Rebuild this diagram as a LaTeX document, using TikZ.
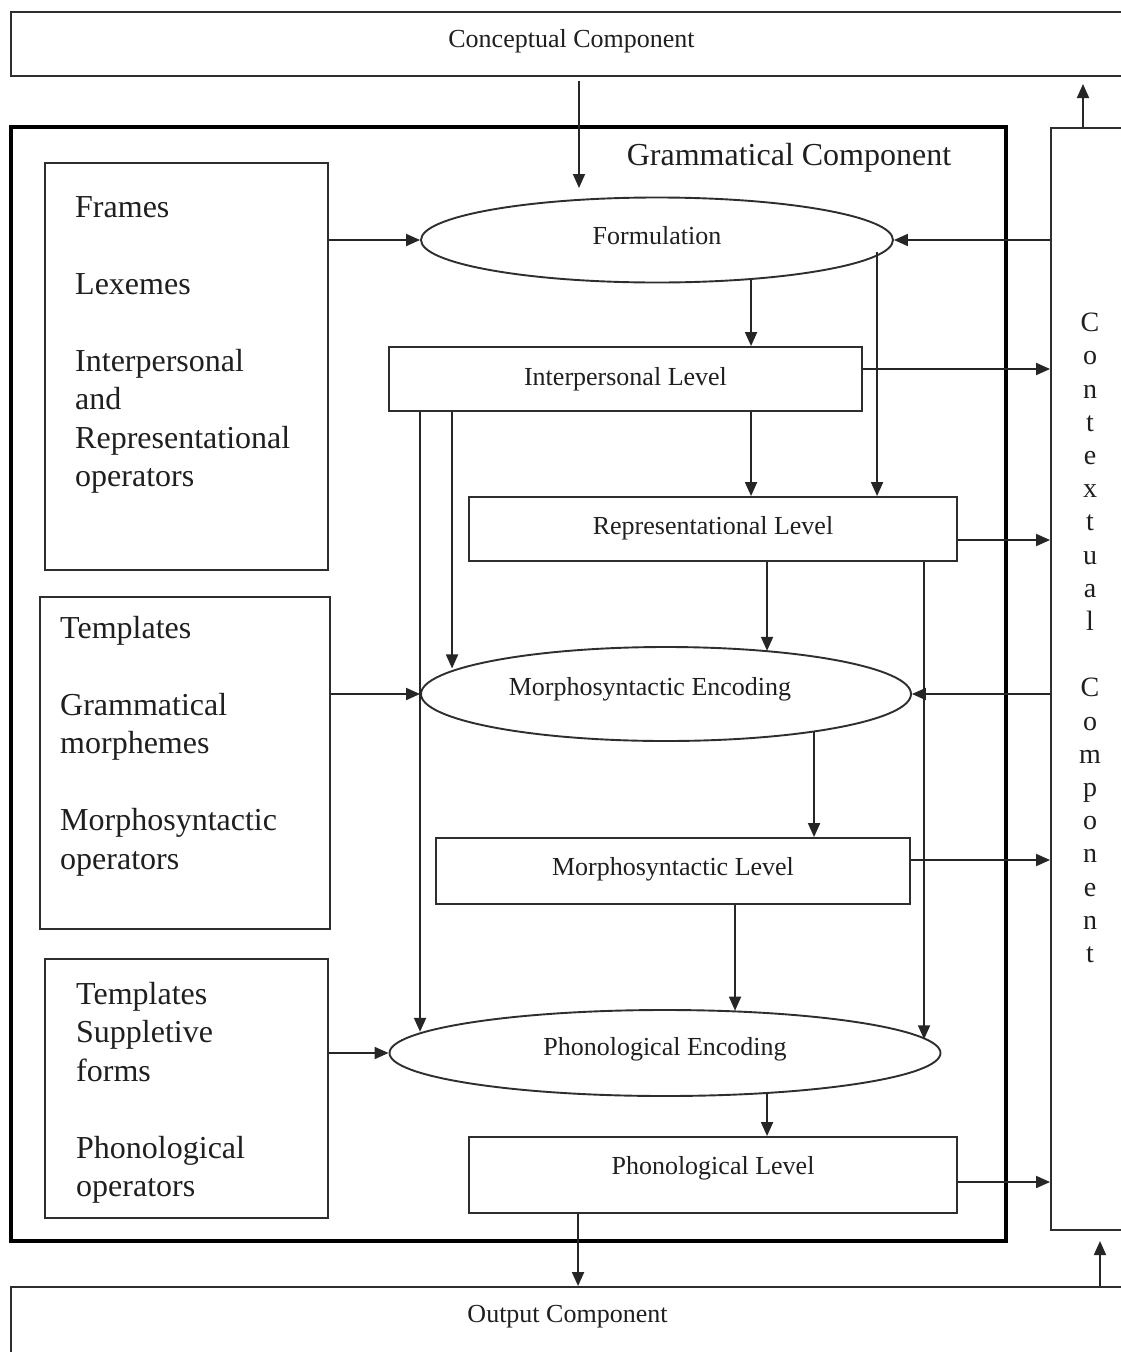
\documentclass[tikz,border=0pt]{standalone}
\usepackage{fontspec}
\setmainfont{Liberation Serif}
\usetikzlibrary{shapes.geometric,arrows.meta,calc}

\begin{document}
\begin{tikzpicture}[x=1pt,y=-1pt,
  line/.style={draw=black!82, line width=1.9pt},
  arr/.style={draw=black!85, line width=1.9pt, -{Triangle[length=14pt,width=12pt]}},
  lvl/.style={line, rectangle, inner sep=0pt, text height=18pt,
    font=\fontsize{26}{30}\selectfont, text=black!88},
  proc/.style={line, ellipse, inner sep=0pt, text height=18pt,
    font=\fontsize{26}{30}\selectfont, text=black!88},
  store/.style={line, rectangle, inner sep=0pt},
  storetext/.style={anchor=north west, align=left, inner sep=0pt,
    font=\fontsize{32}{38.5}\selectfont, text=black!88},
  plain/.style={inner sep=0pt, font=\fontsize{26}{30}\selectfont, text=black!88},
]
\useasboundingbox (0,0) rectangle (1121,1352);
\clip (0,0) rectangle (1121,1352);
\fill[white] (0,0) rectangle (1121,1352);

% outer components
\node[store, minimum width=1124pt, minimum height=64pt] (concept) at (573,44) {};
\node[plain] (concepttxt) at (571.5,41) {Conceptual Component};
\node[store, minimum width=1124pt, minimum height=78pt] (output) at (573,1326) {};
\node[plain] (outputtxt) at (567.5,1317) {Output Component};
\node[store, minimum width=89pt, minimum height=1102pt] (ctx) at (1095.5,679) {};
\node[inner sep=0pt, align=center, font=\fontsize{28}{33.2}\selectfont, text=black!88]
  (ctxtxt) at (1090,638)
  {C\\o\\n\\t\\e\\x\\t\\u\\a\\l\\[33.2pt]C\\o\\m\\p\\o\\n\\e\\n\\t};

% grammatical component frame
\node[draw=black, line width=4pt, rectangle, inner sep=0pt,
  minimum width=995pt, minimum height=1114pt] (gram) at (508.5,684) {};
\node[inner sep=0pt, font=\fontsize{32}{38}\selectfont, text=black!88]
  (gramtxt) at (789,158) {Grammatical Component};

% primitive stores
\node[store, minimum width=283pt, minimum height=407pt] (lex) at (186.5,366.5) {};
\node[storetext] (lextxt) at (75,196)
  {Frames\\[38.5pt]Lexemes\\[38.5pt]Interpersonal\\and\\Representational\\operators};
\node[store, minimum width=290pt, minimum height=332pt] (gm) at (185,763) {};
\node[storetext] (gmtxt) at (60,616)
  {Templates\\[38.5pt]Grammatical\\morphemes\\[38.5pt]Morphosyntactic\\operators};
\node[store, minimum width=283pt, minimum height=259pt] (ph) at (186.5,1088.5) {};
\node[storetext] (phtxt) at (76,982)
  {Templates\\Suppletive\\forms\\[38.5pt]Phonological\\operators};

% operations and levels
\node[proc, text depth=10pt, minimum width=472pt, minimum height=85pt] (form) at (657,240) {Formulation};
\node[lvl, text depth=6pt, minimum width=473pt, minimum height=64pt] (il) at (625.5,379) {Interpersonal Level};
\node[lvl, text depth=8pt, minimum width=488pt, minimum height=64pt] (rl) at (713,529) {Representational Level};
\node[proc, text depth=16pt, minimum width=490pt, minimum height=94pt] (me) at (666,694) {Morphosyntactic Encoding\hspace*{32pt}};
\node[lvl, text depth=10pt, minimum width=474pt, minimum height=66pt] (ml) at (673,871) {Morphosyntactic Level};
\node[proc, text depth=14pt, minimum width=551pt, minimum height=86pt] (pe) at (665,1053) {Phonological Encoding};
\node[lvl, text depth=20pt, minimum width=488pt, minimum height=76pt] (pl) at (713,1175) {Phonological Level};

% connector end points
\coordinate (cin) at (579,188);
\coordinate (cup) at (1083,84);
\coordinate (oup) at (1100,1241);
\coordinate (fi) at ([xshift=363pt]il.north west);
\coordinate (fr) at ([xshift=409pt]rl.north west);
\coordinate (ir) at ([xshift=363pt]il.south west);
\coordinate (im) at ([xshift=64pt]il.south west);
\coordinate (ip) at ([xshift=32pt]il.south west);
\coordinate (rm) at ([xshift=299pt]rl.south west);
\coordinate (rp) at ([xshift=456pt]rl.south west);
\coordinate (mm) at ([xshift=379pt]ml.north west);
\coordinate (mp) at ([xshift=300pt]ml.south west);
\coordinate (pp) at ([xshift=299pt]pl.north west);
\coordinate (po) at ([xshift=110pt]pl.south west);
\coordinate (ic) at ([yshift=10pt]il.east);
\coordinate (rc) at ([yshift=-11pt]rl.east);
\coordinate (mc) at ([yshift=11pt]ml.east);
\coordinate (pc) at ([yshift=-7pt]pl.east);

% conceptual, output and contextual links
\draw[arr] ([yshift=-4pt]cin |- concept.south) -- (cin);
\draw[arr] (cup |- ctx.north) -- (cup);
\draw[arr] (oup |- output.north) -- (oup);
\draw[arr] (po) -- (po |- output.north);

% stores into operations
\draw[arr] (lex.east |- form.west) -- (form.west);
\draw[arr] (gm.east |- me.west) -- (me.west);
\draw[arr] (ph.east |- pe.west) -- (pe.west);

% contextual component into operations
\draw[arr] (ctx.west |- form.east) -- (form.east);
\draw[arr] (ctx.west |- me.east) -- (me.east);

% levels into contextual component
\draw[arr] (ic) -- (ic -| ctx.west);
\draw[arr] (rc) -- (rc -| ctx.west);
\draw[arr] (mc) -- (mc -| ctx.west);
\draw[arr] (pc) -- (pc -| ctx.west);

% downward flow
\draw[arr] (fi |- form.-22.3) -- (fi);
\draw[arr] (fr |- form.-3.9) -- (fr);
\draw[arr] (ir) -- (ir |- rl.north);
\draw[arr] (im) -- (im |- me.173.8);
\draw[arr] (ip) -- (ip |- pe.175.4);
\draw[arr] (rm) -- (rm |- me.22.7);
\draw[arr] (rp) -- (rp |- pe.3.1);
\draw[arr] (mm |- me.-14.1) -- (mm);
\draw[arr] (mp) -- (mp |- pe.30.3);
\draw[arr] (pp |- pe.-21.2) -- (pp);
\end{tikzpicture}
\end{document}
